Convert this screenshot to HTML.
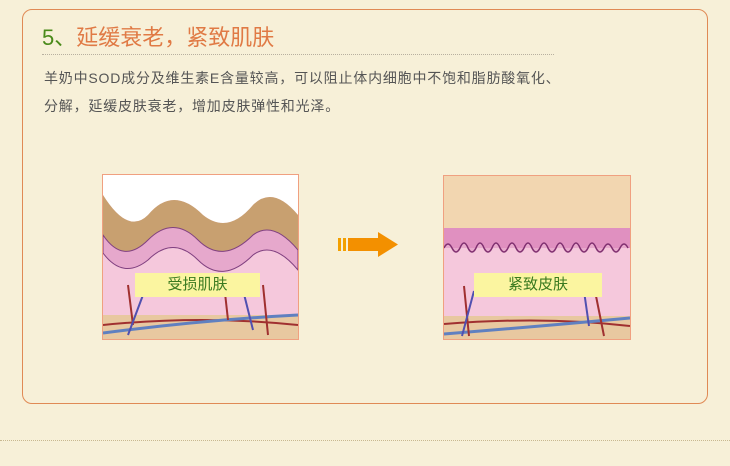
<!DOCTYPE html>
<html><head><meta charset="utf-8"><style>
body{margin:0;width:730px;height:466px;background:#f7f0d8;position:relative;overflow:hidden;font-family:"Liberation Sans","Noto Sans CJK SC",sans-serif}
.panel{position:absolute;left:22px;top:9px;width:684px;height:393px;border:1.5px solid #e08a55;border-radius:10px}
.t{position:absolute;left:42px;top:20px;font-size:22px;color:#e07a45;white-space:nowrap}
.t b{font-weight:normal;color:#4a8a1a}
.dots{position:absolute;left:42px;top:54px;width:512px;border-top:1.5px dotted #b8b0a0}
.p{position:absolute;left:44px;font-size:14px;letter-spacing:0.8px;color:#555;white-space:nowrap}
.bot{position:absolute;left:0;top:440px;width:730px;border-top:1.5px dotted #c8b890}
.img{position:absolute;border:1.5px solid #f0a080;overflow:hidden}
.lab{position:absolute;background:#fbf5a0;color:#3a7a20;font-size:15px;text-align:center;line-height:24px}
</style></head><body>
<div class="panel"></div>
<div class="t"><b>5、</b>延缓衰老，紧致肌肤</div>
<div class="dots"></div>
<div class="p" style="top:68px">羊奶中SOD成分及维生素E含量较高，可以阻止体内细胞中不饱和脂肪酸氧化、</div>
<div class="p" style="top:96px">分解，延缓皮肤衰老，增加皮肤弹性和光泽。</div>

<div class="img" style="left:102px;top:174px;width:195px;height:164px">
<svg width="195" height="164">
<rect width="195" height="164" fill="#f5c8dc"/>
<path d="M0 0H195V40 Q170 10 150 30 Q125 60 100 40 Q70 10 45 40 Q25 60 0 20Z" fill="#fff"/>
<path d="M0 20 Q25 60 45 40 Q70 10 100 40 Q125 60 150 30 Q170 10 195 40V75 Q170 45 150 60 Q120 90 95 65 Q70 40 45 65 Q20 90 0 60Z" fill="#c8a070"/>
<path d="M0 60 Q20 90 45 65 Q70 40 95 65 Q120 90 150 60 Q170 45 195 75V95 Q170 65 150 80 Q120 110 95 85 Q70 60 45 85 Q20 105 0 78Z" fill="#e6a8cc" stroke="#804080"/>
<rect y="140" width="195" height="24" fill="#e8c8a0"/>
<path d="M0 150 Q100 140 195 150" stroke="#a03030" stroke-width="2" fill="none"/>
<path d="M0 158 Q100 145 195 140" stroke="#6080c0" stroke-width="3" fill="none"/>
<path d="M25 110 L30 150 M120 100 L125 145 M160 110 L165 160" stroke="#a03030" stroke-width="2"/>
<path d="M40 120 L25 160 M140 115 L150 155" stroke="#5050b0" stroke-width="2"/>
</svg>
<div class="lab" style="left:32px;top:98px;width:125px">受损肌肤</div>
</div>

<svg style="position:absolute;left:336px;top:230px" width="64" height="30">
<rect x="2" y="8" width="3" height="13" fill="#f3a000"/><rect x="7" y="8" width="3" height="13" fill="#f3a000"/>
<rect x="12" y="8" width="30" height="13" fill="#f39000"/><polygon points="42,2 62,14.5 42,27" fill="#f39000"/>
</svg>

<div class="img" style="left:443px;top:175px;width:186px;height:163px">
<svg width="186" height="163">
<rect width="186" height="163" fill="#f5c8dc"/>
<rect width="186" height="52" fill="#f2d6b0"/>
<rect y="52" width="186" height="20" fill="#e090c0"/>
<path d="M0 72 q4 -8 8 0 q4 8 8 0 q4 -10 8 0 q4 8 8 0 q4 -10 8 0 q4 8 8 0 q4 -10 8 0 q4 8 8 0 q4 -10 8 0 q4 8 8 0 q4 -10 8 0 q4 8 8 0 q4 -10 8 0 q4 8 8 0 q4 -10 8 0 q4 8 8 0 q4 -10 8 0 q4 8 8 0 q4 -10 8 0 q4 8 8 0 q4 -8 8 0 q4 8 8 0 q4 -8 8 0" stroke="#803070" stroke-width="1.5" fill="#e8a8cc"/>
<rect y="140" width="186" height="23" fill="#e8c8a0"/>
<path d="M0 148 Q100 140 186 150" stroke="#a03030" stroke-width="2" fill="none"/>
<path d="M0 158 Q100 150 186 142" stroke="#6080c0" stroke-width="3" fill="none"/>
<path d="M20 110 L25 160 M150 110 L160 160" stroke="#a03030" stroke-width="2"/>
<path d="M30 115 L18 160 M140 115 L145 150" stroke="#5050b0" stroke-width="2"/>
</svg>
<div class="lab" style="left:30px;top:97px;width:128px">紧致皮肤</div>
</div>
<div class="bot"></div>
</body></html>
